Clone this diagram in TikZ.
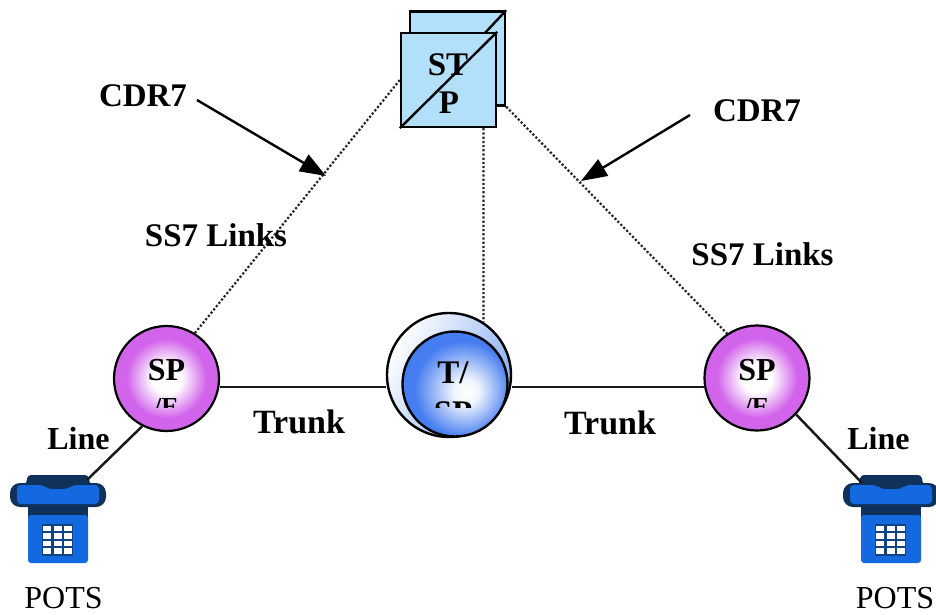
\documentclass[tikz,border=0pt]{standalone}
\usepackage{fontspec}
\setmainfont{Liberation Serif}
\usetikzlibrary{arrows.meta,shadings}
\definecolor{violet1}{RGB}{210,100,235}
\definecolor{stpblue}{RGB}{178,224,250}
\definecolor{phoneblue}{RGB}{20,105,225}
\definecolor{phonedark}{RGB}{16,50,90}
\definecolor{ringblue}{RGB}{130,170,240}
\definecolor{coreblue}{RGB}{70,125,240}
\pgfdeclareradialshading{spshade}{\pgfpoint{0bp}{0bp}}{color(0bp)=(white); color(7bp)=(white); color(19bp)=(violet1); color(50bp)=(violet1)}
\pgfdeclareradialshading{tshade}{\pgfpoint{6bp}{-4bp}}{color(0bp)=(white); color(6bp)=(white!92!coreblue); color(23bp)=(coreblue); color(60bp)=(coreblue)}
\tikzset{
  x=1pt,y=-1pt,
  lab/.style={anchor=base,inner sep=0pt,font=\fontsize{#1}{#1}\selectfont\bfseries},
  pots/.style={anchor=base,inner sep=0pt,font=\fontsize{32}{32}\selectfont},
  spnode/.style={circle,draw=black,line width=2.2pt,minimum size=105pt,inner sep=0pt,shading=spshade},
  sqnode/.style={rectangle,draw=black,line width=2.4pt,fill=stpblue,minimum width=95pt,minimum height=94pt,inner sep=0pt},
  dotlink/.style={line width=2.2pt,dotted,black!85},
  solidlink/.style={line width=2.5pt,black!90},
  callout/.style={line width=2.4pt,-{Triangle[length=26pt,width=19pt]}}
}
\newcommand{\phoneat}[2]{%
  \begin{scope}[shift={(#1,#2)}]
    \fill[phonedark,rounded corners=3pt] (-30,0) -- (30,0) -- (34,16) -- (-34,16) -- cycle;
    \fill[phonedark] (-30,28) rectangle (30,44);
    \fill[phonedark,rounded corners=10pt] (-48,8) rectangle (48,32);
    \fill[phoneblue,rounded corners=4pt] (-41,10) -- (-15,10) -- (-10,14) -- (10,14) -- (15,10) -- (41,10) -- (41,29) -- (-41,29) -- cycle;
    \fill[phoneblue,rounded corners=3pt] (-30,40) rectangle (30,88);
    \fill[phonedark!70!phoneblue] (-16,49) rectangle (15,81);
    \foreach \i in {0,1,2}{\foreach \j in {0,1,2,3}{
      \fill[white] (-15+\i*10.5,50.5+\j*7.6) rectangle ++(8,5.4);}}
  \end{scope}}
\begin{document}
\begin{tikzpicture}
\useasboundingbox (0,0) rectangle (936,614);
\fill[white] (0,0) rectangle (936,614);

% STP
\node[sqnode] (stpb) at (457.5,58.5) {};
\draw[line width=2.4pt] (stpb.north east) -- (484,34);
\node[sqnode] (stpf) at (448.5,80) {};
\draw[line width=2.4pt] (stpf.south west) -- (stpf.north east);
\node[lab=33] (stpa) at (448,75) {ST};
\node[lab=33] (stpc) at (449,113) {P};

% switching points
\node[spnode] (spl) at (166.5,378.5) {};
\node[spnode] (spr) at (757,378) {};
\node[circle,draw=black,line width=2.4pt,minimum size=124pt,inner sep=0pt,left color=white,right color=ringblue,shading angle=60] (tout) at (449,375) {};
\node[circle,draw=black,line width=2.4pt,minimum size=105pt,inner sep=0pt,shading=tshade] (tin) at (455,384) {};

% phones
\phoneat{58}{475}
\phoneat{891}{475}
\coordinate (phl) at (87,480);
\coordinate (phr) at (862,483);
\coordinate (trl) at (220,387);
\coordinate (trr) at (705,387);

% links
\draw[dotlink] (stpf.west) -- (spl.58);
\draw[dotlink] (stpb.south east) -- (spr.124);
\draw[dotlink] (stpf.-54) -- (tout.57);
\draw[solidlink] (trl) -- (tout.west |- trl);
\draw[solidlink] (tout.east |- trr) -- (trr);
\draw[solidlink] (spl.-117) -- (phl);
\draw[solidlink] (spr.-43) -- (phr);

% callouts
\coordinate (cal) at (197,100);
\coordinate (tal) at (326,176);
\coordinate (car) at (690,115);
\coordinate (tar) at (581,181);
\draw[callout] (cal) -- (tal);
\draw[callout] (car) -- (tar);

% labels
\node[lab=33] (c1) at (143,106) {CDR7};
\node[lab=33] (c2) at (757,121) {CDR7};
\node[lab=33] (s1) at (216,246) {SS7 Links};
\node[lab=33] (s2) at (762.5,265) {SS7 Links};
\node[lab=34] (tr1) at (299,433) {Trunk};
\node[lab=34] (tr2) at (610,434) {Trunk};
\node[lab=32] (l1) at (78.5,449) {Line};
\node[lab=32] (l2) at (878.5,449) {Line};
\node[pots] (p1) at (63.5,608) {POTS};
\node[pots] (p2) at (895,608) {POTS};

% node texts, cut off as in the picture
\node[lab=32] (sa) at (166.5,380) {SP};
\node[lab=32] (sb) at (757,380) {SP};
\begin{scope}
  \clip (100,398) rectangle (240,407);
  \node[lab=26] (sc) at (166.5,415) {/E};
\end{scope}
\begin{scope}
  \clip (700,398) rectangle (820,407);
  \node[lab=26] (sd) at (757,415) {/E};
\end{scope}
\node[lab=33] (ta) at (453,383) {T/};
\begin{scope}
  \clip (400,400) rectangle (510,407);
  \node[lab=33] (tb) at (453,423) {SP};
\end{scope}
\end{tikzpicture}
\end{document}
